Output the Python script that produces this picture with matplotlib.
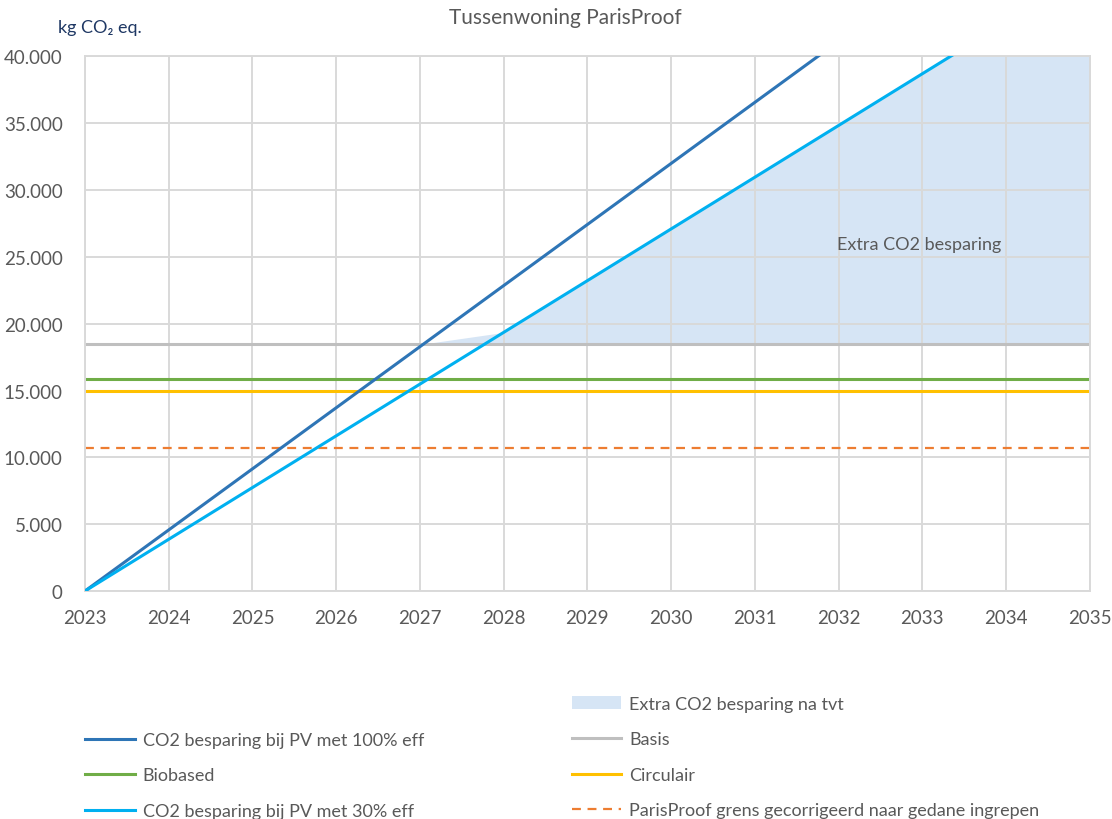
import numpy as np
import matplotlib.pyplot as plt
from matplotlib.patches import Patch
from matplotlib.lines import Line2D
from matplotlib.ticker import FuncFormatter

plt.rcParams['font.family'] = ['Lato', 'DejaVu Sans']

# data
years = [2023, 2024, 2025, 2026, 2027, 2028, 2029, 2030, 2031, 2032, 2033, 2034, 2035]
pv100 = [0, 4570, 9140, 13710, 18280, 22850, 27420, 31990, 36560, 41130, 45700, 50270, 54840]
pv30 = [0, 3870, 7740, 11610, 15480, 19350, 23220, 27090, 30960, 34830, 38700, 42570, 46440]
extra = [0, 0, 0, 0, 0, 900, 4770, 8640, 12510, 16380, 20250, 24120, 27990]
basis = [18450] * 13
biobased = [15850] * 13
circulair = [14980] * 13
parisproof = [10700] * 13

labels = ['CO2 besparing bij PV met 100% eff', 'Biobased', 'CO2 besparing bij PV met 30% eff',
          'Extra CO2 besparing na tvt', 'Basis', 'Circulair',
          'ParisProof grens gecorrigeerd naar gedane ingrepen']

txt = '#595959'
gridc = '#D9D9D9'

fig = plt.figure(figsize=(11.12, 8.2), dpi=100)
ax = fig.add_axes([0.0764, 0.278, 0.9036, 0.652])

top = np.array(basis) + np.array(extra)
ax.fill_between(years, basis, top, color='#D6E5F5', lw=0, zorder=1)
ax.plot(years, basis, color='#BFBFBF', lw=2.2, zorder=2)
ax.plot(years, biobased, color='#70AD47', lw=2.2, zorder=2)
ax.plot(years, circulair, color='#FFC000', lw=2.2, zorder=2)
ax.plot(years, parisproof, color='#ED7D31', lw=1.6, ls=(0, (4, 3)), zorder=2)
ax.plot(years, pv100, color='#2E75B6', lw=2.2, zorder=3)
ax.plot(years, pv30, color='#00B0F0', lw=2.2, zorder=3)

ax.set_xlim(2023, 2035)
ax.set_ylim(0, 40000)
ax.set_xticks(years)
ax.set_yticks(range(0, 40001, 5000))
ax.yaxis.set_major_formatter(FuncFormatter(lambda v, p: f'{int(v):,}'.replace(',', '.')))
ax.set_axisbelow('line')
ax.grid(True, color=gridc, lw=1.4)
for s in ax.spines.values():
    s.set_color(gridc)
    s.set_linewidth(1.4)
ax.tick_params(length=0, labelsize=13.5, colors=txt)
ax.tick_params(axis='x', pad=13)
ax.tick_params(axis='y', pad=16)

ax.text(2032.96, 26000, 'Extra CO2 besparing', ha='center', va='center', fontsize=13, color=txt, zorder=4)

fig.text(0.508, 0.978, 'Tussenwoning ParisProof', ha='center', va='center', fontsize=15, color=txt)
fig.text(0.052, 0.966, 'kg CO₂ eq.', ha='left', va='center', fontsize=13, color='#1F3864')

left_h = [Line2D([], [], color='#2E75B6', lw=2.2),
          Line2D([], [], color='#70AD47', lw=2.2),
          Line2D([], [], color='#00B0F0', lw=2.2)]
right_h = [Patch(color='#D6E5F5', lw=0),
           Line2D([], [], color='#BFBFBF', lw=2.2),
           Line2D([], [], color='#FFC000', lw=2.2),
           Line2D([], [], color='#ED7D31', lw=1.6, ls=(0, (4, 3)))]

kw = dict(frameon=False, fontsize=13, labelcolor=txt, handlelength=2.75, handletextpad=0.45,
          labelspacing=1.08, borderpad=0, borderaxespad=0)
leg1 = fig.legend(left_h, labels[:3], loc='upper left', bbox_to_anchor=(0.0764, 1 - 733 / 820), **kw)
leg2 = fig.legend(right_h, labels[3:], loc='upper left', bbox_to_anchor=(0.514, 1 - 697 / 820), **kw)

fig.savefig('out.png', dpi=100)
